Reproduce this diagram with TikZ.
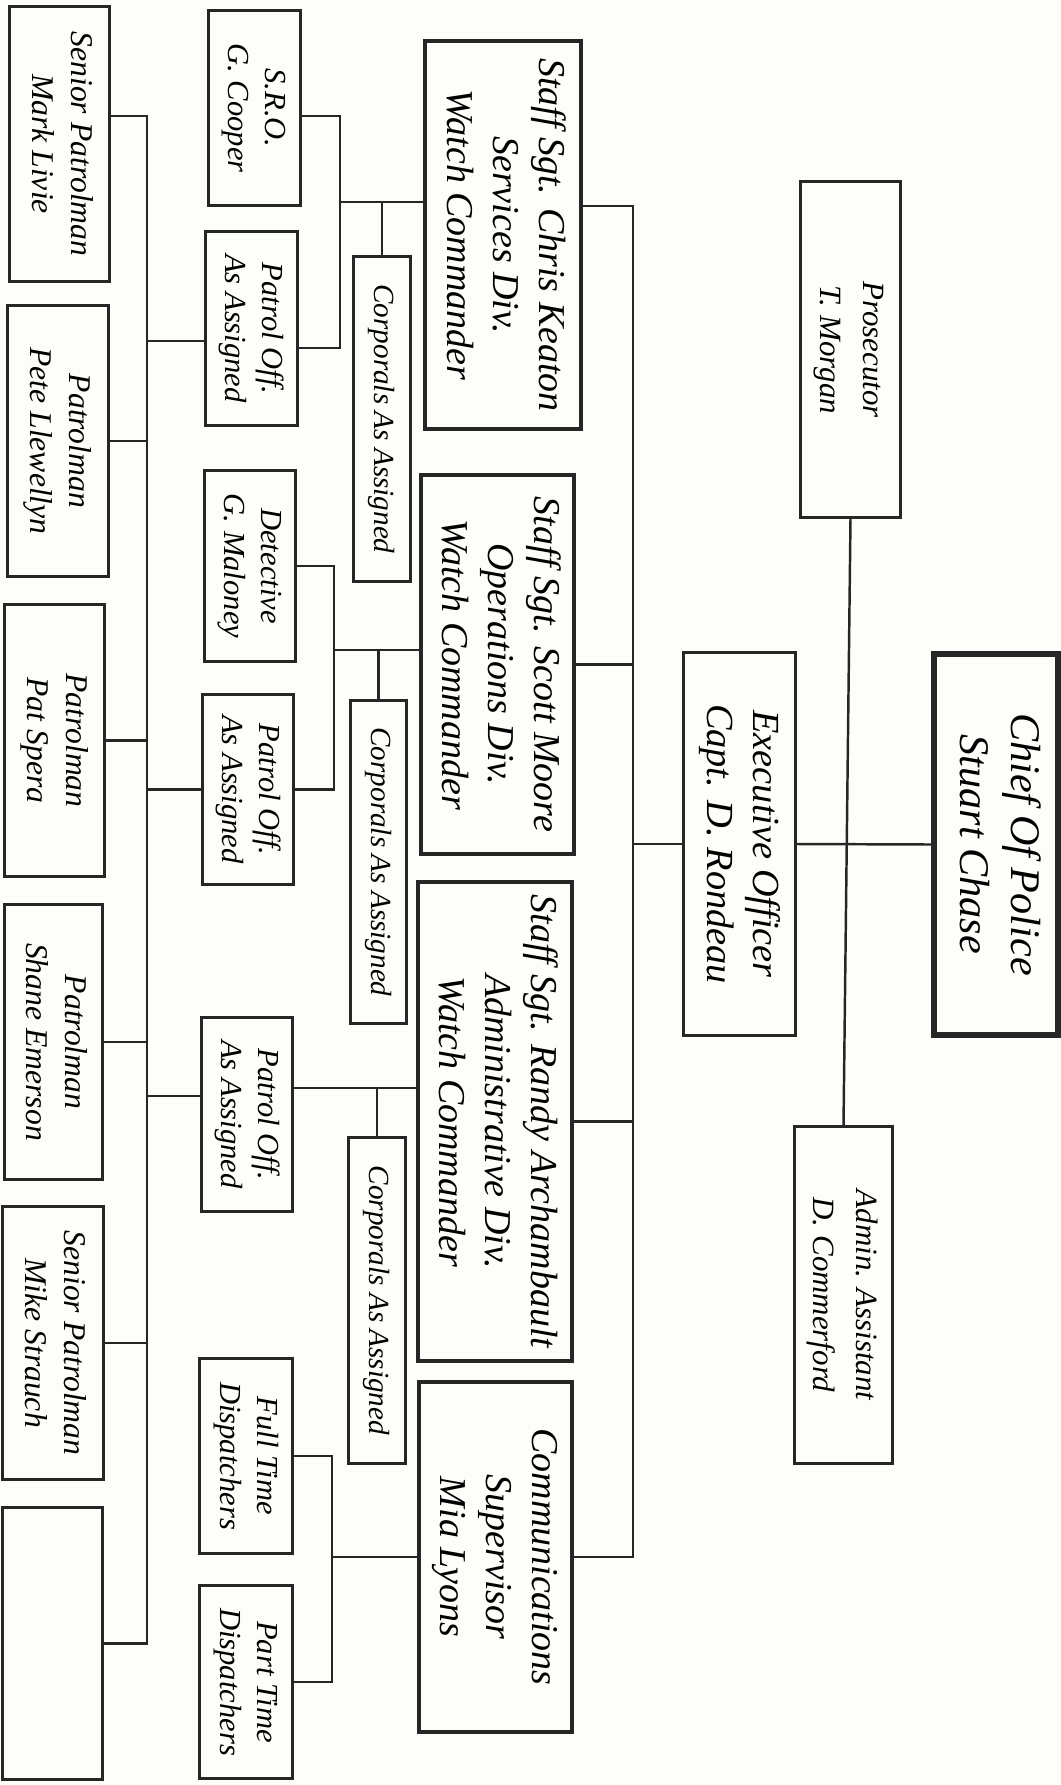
\documentclass[tikz,border=0pt]{standalone}
\usepackage{fontspec}
\setmainfont{Liberation Serif}
\usepackage{graphicx}
\definecolor{paper}{RGB}{253,253,250}
\definecolor{ink}{RGB}{38,38,38}
\newcommand{\turned}[1]{\rotatebox{-90}{\begin{tabular}{@{}c@{}}#1\end{tabular}}}

\begin{document}
\begin{tikzpicture}[x=0.01cm,y=-0.01cm,
        box/.style={draw=ink,line width=0.85pt,fill=paper,inner sep=0pt},
        bigbox/.style={box,line width=1.1pt},
        link/.style={draw=ink,line width=0.7pt},
        mantext/.style={font=\itshape\fontsize{9}{11.1}\selectfont},
        smalltext/.style={font=\itshape\fontsize{8.7}{10.5}\selectfont},
        corptext/.style={font=\itshape\fontsize{8.3}{10}\selectfont},
        bigtext/.style={font=\itshape\fontsize{10.8}{13.1}\selectfont}]
    \fill[paper] (0,0) rectangle (1061,1785);
    \useasboundingbox (0,0) rectangle (1061,1785);

    % top of the chart
    \node[box,line width=1.5pt,minimum width=1.24cm,minimum height=3.81cm,font=\itshape\fontsize{12}{14.5}\selectfont] (chief) at (996,844.5) {\turned{Chief Of Police\\Stuart Chase}};
    \node[box,minimum width=1.11cm,minimum height=3.82cm,font=\itshape\fontsize{10.9}{13.1}\selectfont] (exec) at (739.5,844) {\turned{Executive Officer\\Capt. D. Rondeau}};
    \node[box,minimum width=0.99cm,minimum height=3.35cm,font=\itshape\fontsize{8.8}{12.3}\selectfont] (prosecutor) at (850.5,349.5) {\turned{Prosecutor\\T. Morgan}};
    \node[box,minimum width=0.97cm,minimum height=3.36cm,font=\itshape\fontsize{8.8}{12.3}\selectfont] (admin) at (843.5,1295) {\turned{Admin. Assistant\\D. Commerford}};

    % divisions
    \node[bigbox,bigtext,minimum width=1.56cm,minimum height=3.88cm] (keaton) at (503,235) {\turned{Staff Sgt. Chris Keaton\\Services Div.\\Watch Commander}};
    \node[bigbox,bigtext,minimum width=1.53cm,minimum height=3.79cm] (moore) at (497.5,664.5) {\turned{Staff Sgt. Scott Moore\\Operations Div.\\Watch Commander}};
    \node[bigbox,bigtext,minimum width=1.54cm,minimum height=4.79cm] (archambault) at (495,1121.5) {\turned{Staff Sgt. Randy Archambault\\Administrative Div.\\Watch Commander}};
    \node[bigbox,bigtext,minimum width=1.53cm,minimum height=3.50cm] (lyons) at (495.5,1557) {\turned{Communications\\Supervisor\\Mia Lyons}};

    % corporals
    \node[box,corptext,minimum width=0.56cm,minimum height=3.24cm] (corp1) at (382,419) {\turned{Corporals As Assigned}};
    \node[box,corptext,minimum width=0.55cm,minimum height=3.22cm] (corp2) at (378.5,862) {\turned{Corporals As Assigned}};
    \node[box,corptext,minimum width=0.56cm,minimum height=3.25cm] (corp3) at (377,1300.5) {\turned{Corporals As Assigned}};

    % officers
    \node[box,smalltext,minimum width=0.91cm,minimum height=1.94cm] (sro) at (254.5,108) {\turned{S.R.O.\\G. Cooper}};
    \node[box,smalltext,minimum width=0.91cm,minimum height=1.93cm] (po1) at (251.5,328.5) {\turned{Patrol Off.\\As Assigned}};
    \node[box,smalltext,minimum width=0.91cm,minimum height=1.90cm] (detective) at (250,566) {\turned{Detective\\G. Maloney}};
    \node[box,smalltext,minimum width=0.90cm,minimum height=1.89cm] (po2) at (248,789.5) {\turned{Patrol Off.\\As Assigned}};
    \node[box,smalltext,minimum width=0.90cm,minimum height=1.93cm] (po3) at (247,1114.5) {\turned{Patrol Off.\\As Assigned}};
    \node[box,smalltext,minimum width=0.92cm,minimum height=1.94cm] (fulltime) at (246,1456) {\turned{Full Time\\Dispatchers}};
    \node[box,smalltext,minimum width=0.92cm,minimum height=1.92cm] (parttime) at (246,1682) {\turned{Part Time\\Dispatchers}};

    % patrolmen
    \node[box,mantext,minimum width=0.99cm,minimum height=2.74cm] (mark) at (59.5,144) {\turned{Senior Patrolman\\Mark Livie}};
    \node[box,mantext,minimum width=1.00cm,minimum height=2.70cm] (pete) at (58,441) {\turned{Patrolman\\Pete Llewellyn}};
    \node[box,mantext,minimum width=0.99cm,minimum height=2.71cm] (spera) at (54.5,740.5) {\turned{Patrolman\\Pat Spera}};
    \node[box,mantext,minimum width=0.97cm,minimum height=2.74cm] (emerson) at (53.5,1042) {\turned{Patrolman\\Shane Emerson}};
    \node[box,mantext,minimum width=1.00cm,minimum height=2.72cm] (strauch) at (53,1343) {\turned{Senior Patrolman\\Mike Strauch}};
    \node[box,minimum width=0.99cm,minimum height=2.71cm] (blank) at (52.5,1643.5) {};

    \coordinate (bus) at (147,116);
    \coordinate (trunk) at (633,206);
    \coordinate (kjoin) at (340,202);
    \coordinate (mjoin) at (334,650);
    \coordinate (ajoin) at (375,1088);
    \coordinate (ljoin) at (332,1557);

    % chief, prosecutor, admin
    \draw[link] (exec.east) -- (chief.west);
    \draw[link] (prosecutor.south) -- (admin.north);
    \draw[link] (keaton.east |- trunk) -- (trunk) |- (lyons.east);
    \draw[link] (exec.west) -- (exec.west -| trunk);
    \draw[link] (moore.east) -- (moore.east -| trunk);
    \draw[link] (archambault.east) -- (archambault.east -| trunk);

    % services
    \draw[link] ([yshift=-0.08cm]sro.east) -| (kjoin) |- ([yshift=-0.195cm]po1.east);
    \draw[link] (kjoin) -- (kjoin -| keaton.west);
    \draw[link] (kjoin -| corp1.north) -- (corp1.north);
    % operations
    \draw[link] (detective.east) -| (mjoin) |- (po2.east);
    \draw[link] (mjoin) -- (mjoin -| moore.west);
    \draw[link] (mjoin -| corp2.north) -- (corp2.north);
    % administrative
    \draw[link] (po3.east |- ajoin) -- (ajoin -| archambault.west);
    \draw[link] (ajoin -| corp3.north) -- (corp3.north);
    % communications
    \draw[link] (fulltime.east) -| (ljoin) |- (parttime.east);
    \draw[link] (ljoin) -- (lyons.west);

    % patrol line
    \draw[link] (mark.east |- bus) -- (bus) |- (blank.east);
    \foreach \man in {pete,spera,emerson,strauch}
        \draw[link] (\man.east) -- (\man.east -| bus);
    \draw[link] ([yshift=-0.125cm]po1.west) -- ([yshift=-0.125cm]po1.west -| bus);
    \draw[link] (po2.west) -- (po2.west -| bus);
    \draw[link] ([yshift=0.185cm]po3.west) -- ([yshift=0.185cm]po3.west -| bus);
\end{tikzpicture}
\end{document}
